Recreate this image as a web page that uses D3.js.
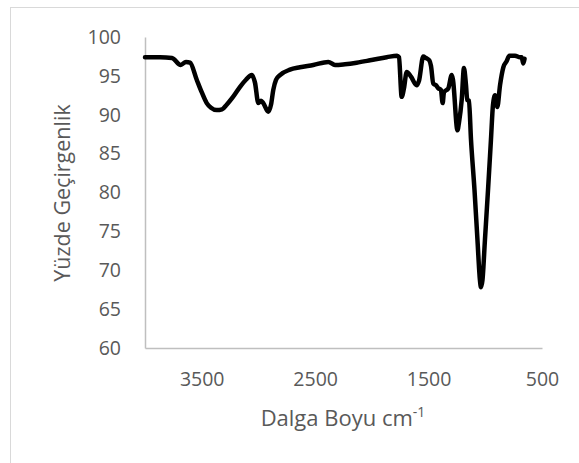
<!DOCTYPE html>
<html>
<head>
<meta charset="utf-8">
<script src="https://cdn.jsdelivr.net/npm/d3@7"></script>
<style>
  body { margin: 0; background: #fff; }
  text { font-family: "Open Sans", sans-serif; fill: #595959; }
</style>
</head>
<body>
<svg></svg>
<script>
// chart values
var wavenumbers = [4000, 3868, 3762, 3685, 3639, 3603, 3544, 3500, 3456, 3418,
  3368, 3321, 3280, 3224, 3162, 3110, 3059, 3030, 3001, 2977,
  2957, 2913, 2889, 2869, 2845, 2810, 2722, 2634, 2516, 2384,
  2325, 2237, 2134, 2016, 1869, 1778, 1761, 1737, 1717, 1693,
  1655, 1605, 1584, 1547, 1523, 1494, 1479, 1458, 1435, 1414,
  1391, 1376, 1364, 1326, 1296, 1285, 1245, 1232, 1208, 1188,
  1170, 1159, 1144, 1126, 1095, 1069, 1047, 1038, 1025, 1003,
  976, 950, 932, 914, 894, 870, 841, 811, 788, 738,
  694, 679, 665, 654];
var transmittance = [97.4, 97.4, 97.3, 96.4, 96.8, 96.7, 94.5, 92.9, 91.5, 90.9,
  90.6, 90.7, 91.3, 92.3, 93.6, 94.5, 95.1, 94.1, 91.5, 91.8,
  91.5, 90.4, 91.3, 93.2, 94.5, 95.1, 95.8, 96.1, 96.4, 96.8,
  96.4, 96.5, 96.7, 97.0, 97.4, 97.6, 97.4, 92.3, 93.4, 95.5,
  94.9, 93.8, 94.4, 97.5, 97.3, 97.0, 96.3, 94.0, 93.8, 93.4,
  93.2, 91.5, 92.9, 93.4, 95.1, 94.5, 88.0, 89.0, 91.9, 96.0,
  93.8, 91.9, 91.8, 86.8, 80.3, 73.9, 68.7, 67.8, 68.7, 73.9,
  80.3, 86.8, 91.3, 92.5, 91.0, 93.8, 96.1, 96.9, 97.6, 97.6,
  97.4, 97.4, 96.6, 97.2];
var xTicks = [3500, 2500, 1500, 500];
var yTicks = [60, 65, 70, 75, 80, 85, 90, 95, 100];

var width = 579;
var height = 463;
var margin = {top: 37, right: 37, bottom: 115, left: 145};

var svg = d3.select("svg")
            .attr("width", width)
            .attr("height", height);

// outer chart border
svg.append("rect")
    .attr("x", 10.5)
    .attr("y", 7.5)
    .attr("width", width)
    .attr("height", height)
    .attr("fill", "none")
    .attr("stroke", "#d9d9d9");

var xScale = d3.scaleLinear()
                .domain([4000, 500])
                .range([margin.left, width - margin.right]);

var yScale = d3.scaleLinear()
                .domain([60, 100])
                .range([height - margin.bottom, margin.top]);

// axes
var xAxis = svg.append("g")
    .attr("transform", "translate(0, " + (height - margin.bottom) + ")")
    .call(d3.axisBottom(xScale).tickValues(xTicks).tickSize(0).tickPadding(24)
          .tickFormat(d3.format("d")));
xAxis.select(".domain").attr("stroke", "#bfbfbf").attr("stroke-width", 1.5);
xAxis.selectAll("text").style("font-size", "19.5px").attr("fill", "#595959");

var yAxis = svg.append("g")
    .attr("transform", "translate(" + margin.left + ", 0)")
    .call(d3.axisLeft(yScale).tickValues(yTicks).tickSize(0).tickPadding(24));
yAxis.select(".domain").attr("stroke", "#bfbfbf").attr("stroke-width", 1.5);
yAxis.selectAll("text").style("font-size", "19.5px").attr("fill", "#595959");

// axis titles
var xTitle = svg.append("text")
    .attr("x", 343)
    .attr("y", 426)
    .style("text-anchor", "middle")
    .style("font-size", "22px");
xTitle.append("tspan").text("Dalga Boyu cm");
xTitle.append("tspan").attr("dy", -9).style("font-size", "14px").text("-1");

svg.append("text")
    .attr("transform", "rotate(-90)")
    .attr("x", -193)
    .attr("y", 70)
    .style("text-anchor", "middle")
    .style("font-size", "21.5px")
    .text("Yüzde Geçirgenlik");

// spectrum line
var points = wavenumbers.map((w, i) => [w, transmittance[i]]);

svg.append("path")
    .datum(points)
    .attr("fill", "none")
    .attr("stroke", "#000")
    .attr("stroke-width", 4.5)
    .attr("stroke-linejoin", "round")
    .attr("stroke-linecap", "round")
    .attr("d", d3.line()
        .curve(d3.curveMonotoneX)
        .x(d => xScale(d[0]))
        .y(d => yScale(d[1])));
</script>
</body>
</html>
